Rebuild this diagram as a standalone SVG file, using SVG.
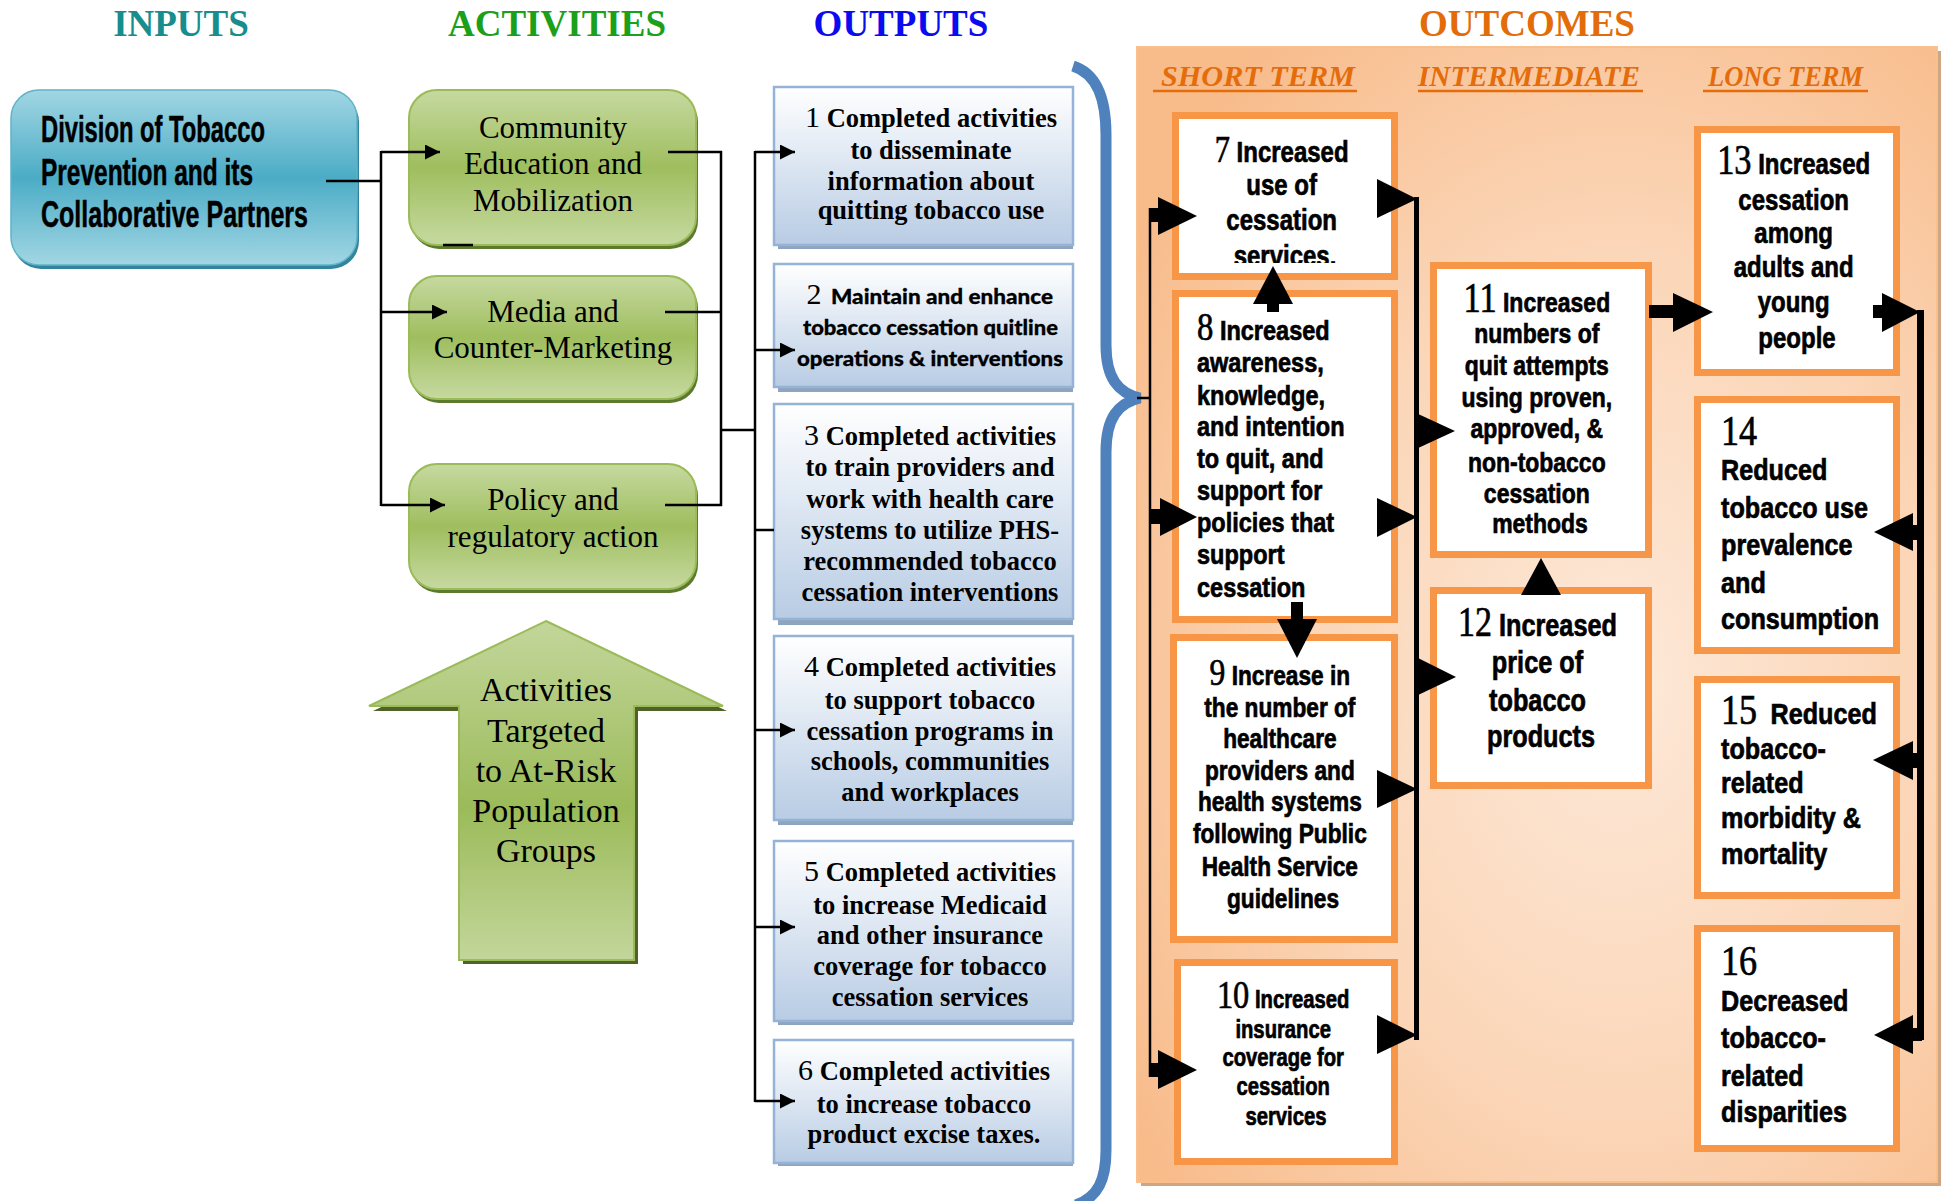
<svg xmlns="http://www.w3.org/2000/svg" width="1946" height="1201" viewBox="0 0 1946 1201">
<style>
.hdr{font-family:"Liberation Serif","Times New Roman",serif;font-weight:bold;font-size:37px;text-anchor:middle}
.sub{font-family:"Liberation Serif","Times New Roman",serif;font-weight:bold;font-style:italic;font-size:30px;fill:#e46c0a}
.div{font-family:"Liberation Sans",Arial,sans-serif;font-weight:bold;font-size:36px;fill:#000;stroke:#000;stroke-width:0.5}
.act{font-family:"Liberation Serif","Times New Roman",serif;font-size:31px;text-anchor:middle;fill:#000}
.arw{font-family:"Liberation Serif","Times New Roman",serif;font-size:34px;text-anchor:middle;fill:#000}
.out{font-family:"Liberation Serif","Times New Roman",serif;font-weight:bold;font-size:26.5px;text-anchor:middle;fill:#000}
.onum{font-weight:normal;font-size:30px}
.q{font-family:Lato,"Open Sans",sans-serif;font-weight:900;font-size:21px;fill:#000;stroke:#000;stroke-width:0.3}
.oc{font-family:"Liberation Sans",Arial,sans-serif;font-weight:bold;fill:#000;stroke:#000;stroke-width:0.7}
.num{font-family:"Liberation Serif","Times New Roman",serif;font-weight:normal}
.obox{fill:#fff;stroke:#f79646;stroke-width:7}
.outbox{fill:url(#gOut);stroke:#95b3d7;stroke-width:2.5}
.outsh{fill:#8fa4bd}
.ln{stroke:#000;stroke-width:2.5;fill:none}
</style>
<defs>
  <linearGradient id="gBlue" x1="0" y1="0" x2="0" y2="1">
    <stop offset="0" stop-color="#a2d6e3"/>
    <stop offset="0.5" stop-color="#4bacc6"/>
    <stop offset="1" stop-color="#a2d6e3"/>
  </linearGradient>
  <linearGradient id="gGreen" x1="0" y1="0" x2="0" y2="1">
    <stop offset="0" stop-color="#c6d9a0"/>
    <stop offset="0.5" stop-color="#9fbe5e"/>
    <stop offset="1" stop-color="#c6d9a0"/>
  </linearGradient>
  <linearGradient id="gArrow" x1="0" y1="0" x2="0" y2="1">
    <stop offset="0" stop-color="#c3d69b"/>
    <stop offset="0.55" stop-color="#9bbb59"/>
    <stop offset="1" stop-color="#c3d69b"/>
  </linearGradient>
  <linearGradient id="gOut" x1="0" y1="0" x2="0" y2="1">
    <stop offset="0" stop-color="#ffffff"/>
    <stop offset="1" stop-color="#b8cce4"/>
  </linearGradient>
  <radialGradient id="gPanel" cx="0.6" cy="0.56" r="0.72">
    <stop offset="0" stop-color="#fde9d9"/>
    <stop offset="0.55" stop-color="#fbd5b6"/>
    <stop offset="1" stop-color="#f8bb8a"/>
  </radialGradient>
  <marker id="ah" markerUnits="userSpaceOnUse" viewBox="0 0 15 15" refX="15" refY="7.5" markerWidth="15" markerHeight="15" orient="auto">
    <path d="M0,0 L15,7.5 L0,15 z" fill="#000"/>
  </marker>
  <clipPath id="clip7"><rect x="1170" y="100" width="240" height="163"/></clipPath>
</defs>
<rect width="1946" height="1201" fill="#fff"/>

<!-- headers -->
<g id="headers">
  <text class="hdr" x="181" y="36" fill="#178d8d">INPUTS</text>
  <text class="hdr" x="557" y="36" fill="#1aa01a">ACTIVITIES</text>
  <text class="hdr" x="901" y="36" fill="#0b0bf0">OUTPUTS</text>
  <text class="hdr" x="1527" y="36" fill="#e36c09">OUTCOMES</text>
</g>

<!-- outcomes panel -->
<g id="outcomes-panel">
  <rect x="1141" y="51" width="800" height="1135" fill="#cfa684"/>
  <rect x="1137" y="47" width="800" height="1135" fill="url(#gPanel)" stroke="#f9c08f" stroke-width="2"/>
  <text class="sub" x="1161" y="86" textLength="194" lengthAdjust="spacingAndGlyphs">SHORT TERM</text>
  <text class="sub" x="1418" y="86" textLength="222" lengthAdjust="spacingAndGlyphs">INTERMEDIATE</text>
  <text class="sub" x="1708" y="86" textLength="155" lengthAdjust="spacingAndGlyphs">LONG TERM</text>
  <line x1="1153" y1="91" x2="1357" y2="91" stroke="#e46c0a" stroke-width="2.5"/>
  <line x1="1418" y1="91" x2="1643" y2="91" stroke="#e46c0a" stroke-width="2.5"/>
  <line x1="1703" y1="91" x2="1868" y2="91" stroke="#e46c0a" stroke-width="2.5"/>
</g>

<!-- input node -->
<g id="node-inputs">
  <rect x="13" y="94" width="346" height="175" rx="28" fill="#31849b"/>
  <rect x="11" y="90" width="346" height="175" rx="28" fill="url(#gBlue)" stroke="#5fb3ca" stroke-width="1.5"/>
  <text class="div" x="41" y="142" textLength="224" lengthAdjust="spacingAndGlyphs">Division of Tobacco</text>
  <text class="div" x="41" y="185" textLength="212" lengthAdjust="spacingAndGlyphs">Prevention and its</text>
  <text class="div" x="41" y="227" textLength="267" lengthAdjust="spacingAndGlyphs">Collaborative Partners</text>
</g>

<!-- activities -->
<g id="node-community">
  <rect x="411" y="94" width="287" height="155" rx="28" fill="#5c7a2e"/>
  <rect x="409" y="90" width="287" height="155" rx="28" fill="url(#gGreen)" stroke="#9bbb59" stroke-width="2"/>
  <text class="act" x="553" y="138">Community</text>
  <text class="act" x="553" y="174">Education and</text>
  <text class="act" x="553" y="211">Mobilization</text>
  <line x1="443" y1="245" x2="473" y2="245" stroke="#000" stroke-width="2.5"/>
</g>
<g id="node-media">
  <rect x="411" y="280" width="287" height="123" rx="28" fill="#5c7a2e"/>
  <rect x="409" y="276" width="287" height="123" rx="28" fill="url(#gGreen)" stroke="#9bbb59" stroke-width="2"/>
  <text class="act" x="553" y="322">Media and</text>
  <text class="act" x="553" y="358">Counter-Marketing</text>
</g>
<g id="node-policy">
  <rect x="411" y="468" width="287" height="125" rx="28" fill="#5c7a2e"/>
  <rect x="409" y="464" width="287" height="125" rx="28" fill="url(#gGreen)" stroke="#9bbb59" stroke-width="2"/>
  <text class="act" x="553" y="510">Policy and</text>
  <text class="act" x="553" y="547">regulatory action</text>
</g>
<g id="node-targeted">
  <polygon points="549,626 727,711 638,711 638,964 463,964 463,711 373,711" fill="#4f6228"/>
  <polygon points="546,621 723,706 634,706 634,960 459,960 459,706 369,706" fill="url(#gArrow)" stroke="#9bbb59" stroke-width="2"/>
  <text class="arw" x="546" y="701">Activities</text>
  <text class="arw" x="546" y="742">Targeted</text>
  <text class="arw" x="546" y="782">to At-Risk</text>
  <text class="arw" x="546" y="822">Population</text>
  <text class="arw" x="546" y="862">Groups</text>
</g>

<!-- outputs -->
<g id="node-out1">
  <rect class="outsh" x="778" y="91" width="295" height="158"/>
  <rect class="outbox" x="774" y="87" width="299" height="158"/>
  <text class="out" x="931" y="127"><tspan class="onum">1</tspan> Completed activities</text>
  <text class="out" x="931" y="159">to disseminate</text>
  <text class="out" x="931" y="190">information about</text>
  <text class="out" x="931" y="219">quitting tobacco use</text>
</g>
<g id="node-out2">
  <rect class="outsh" x="778" y="268" width="295" height="124"/>
  <rect class="outbox" x="774" y="264" width="299" height="123"/>
  <text class="out" x="814" y="304"><tspan class="onum">2</tspan></text>
  <text class="q" x="831" y="304" textLength="222" lengthAdjust="spacingAndGlyphs">Maintain and enhance</text>
  <text class="q" x="803" y="335" textLength="255" lengthAdjust="spacingAndGlyphs">tobacco cessation quitline</text>
  <text class="q" x="797" y="366" textLength="266" lengthAdjust="spacingAndGlyphs">operations &amp; interventions</text>
</g>
<g id="node-out3">
  <rect class="outsh" x="778" y="408" width="295" height="217"/>
  <rect class="outbox" x="774" y="404" width="299" height="215"/>
  <text class="out" x="930" y="445"><tspan class="onum">3</tspan> Completed activities</text>
  <text class="out" x="930" y="476">to train providers and</text>
  <text class="out" x="930" y="508">work with health care</text>
  <text class="out" x="930" y="539">systems to utilize PHS-</text>
  <text class="out" x="930" y="570">recommended tobacco</text>
  <text class="out" x="930" y="601">cessation interventions</text>
</g>
<g id="node-out4">
  <rect class="outsh" x="778" y="640" width="295" height="185"/>
  <rect class="outbox" x="774" y="636" width="299" height="184"/>
  <text class="out" x="930" y="676"><tspan class="onum">4</tspan> Completed activities</text>
  <text class="out" x="930" y="709">to support tobacco</text>
  <text class="out" x="930" y="740">cessation programs in</text>
  <text class="out" x="930" y="770">schools, communities</text>
  <text class="out" x="930" y="801">and workplaces</text>
</g>
<g id="node-out5">
  <rect class="outsh" x="778" y="845" width="295" height="180"/>
  <rect class="outbox" x="774" y="841" width="299" height="180"/>
  <text class="out" x="930" y="881"><tspan class="onum">5</tspan> Completed activities</text>
  <text class="out" x="930" y="914">to increase Medicaid</text>
  <text class="out" x="930" y="944">and other insurance</text>
  <text class="out" x="930" y="975">coverage for tobacco</text>
  <text class="out" x="930" y="1006">cessation services</text>
</g>
<g id="node-out6">
  <rect class="outsh" x="778" y="1044" width="295" height="122"/>
  <rect class="outbox" x="774" y="1040" width="299" height="123"/>
  <text class="out" x="924" y="1080"><tspan class="onum">6</tspan> Completed activities</text>
  <text class="out" x="924" y="1113">to increase tobacco</text>
  <text class="out" x="924" y="1143">product excise taxes.</text>
</g>

<!-- brace -->
<g id="brace">
  <path d="M1073,66 C1098,74 1106,100 1106,135 L1106,345 C1106,378 1118,393 1140,398 C1118,403 1106,418 1106,452 L1106,1150 C1106,1180 1098,1197 1076,1205" fill="none" stroke="#4f81bd" stroke-width="11"/>
</g>

<!-- outcome nodes -->
<g id="node-7">
  <rect class="obox" x="1175.5" y="115.5" width="219" height="161"/>
  <g clip-path="url(#clip7)">
  <text class="oc" font-size="30" text-anchor="middle" transform="translate(1285,0) scale(0.8,1)">
    <tspan x="0" y="162"><tspan class="num" font-size="38">7</tspan> Increased</tspan>
    <tspan x="0" y="195">use of</tspan>
    <tspan x="0" y="230">cessation</tspan>
    <tspan x="0" y="266">services.</tspan>
  </text>
  </g>
</g>
<g id="node-8">
  <rect class="obox" x="1175.5" y="293.5" width="219" height="326"/>
  <text class="oc" font-size="28" transform="translate(1197,0) scale(0.84,1)">
    <tspan x="0" y="340"><tspan class="num" font-size="39">8</tspan> Increased</tspan>
    <tspan x="0" y="372">awareness,</tspan>
    <tspan x="0" y="405">knowledge,</tspan>
    <tspan x="0" y="436">and intention</tspan>
    <tspan x="0" y="468">to quit, and</tspan>
    <tspan x="0" y="500">support for</tspan>
    <tspan x="0" y="532">policies that</tspan>
    <tspan x="0" y="564">support</tspan>
    <tspan x="0" y="597">cessation</tspan>
  </text>
</g>
<g id="node-9">
  <rect class="obox" x="1173.5" y="637.5" width="221" height="302"/>
  <text class="oc" font-size="28" text-anchor="middle" transform="translate(1283,0) scale(0.81,1)">
    <tspan x="0" y="685"><tspan class="num" font-size="39">9</tspan> Increase in</tspan>
    <tspan x="0" y="717">the number of</tspan>
    <tspan x="0" y="748">healthcare</tspan>
    <tspan x="0" y="780">providers and</tspan>
    <tspan x="0" y="811">health systems</tspan>
    <tspan x="0" y="843">following Public</tspan>
    <tspan x="0" y="876">Health Service</tspan>
    <tspan x="0" y="908">guidelines</tspan>
  </text>
</g>
<g id="node-10">
  <rect class="obox" x="1177.5" y="962.5" width="217" height="199"/>
  <text class="oc" font-size="25" text-anchor="middle" transform="translate(1286,0) scale(0.81,1)">
    <tspan x="0" y="1008"><tspan class="num" font-size="40">10</tspan> Increased</tspan>
    <tspan x="0" y="1038">insurance</tspan>
    <tspan x="0" y="1066">coverage for</tspan>
    <tspan x="0" y="1095">cessation</tspan>
    <tspan x="0" y="1125">services</tspan>
  </text>
</g>
<g id="node-11">
  <rect class="obox" x="1433.5" y="265.5" width="215" height="289"/>
  <text class="oc" font-size="28" text-anchor="middle" transform="translate(1540,0) scale(0.82,1)">
    <tspan x="0" y="312"><tspan class="num" font-size="42">11</tspan> Increased</tspan>
    <tspan x="0" y="343">numbers of</tspan>
    <tspan x="0" y="375">quit attempts</tspan>
    <tspan x="0" y="407">using proven,</tspan>
    <tspan x="0" y="438">approved, &amp;</tspan>
    <tspan x="0" y="472">non-tobacco</tspan>
    <tspan x="0" y="503">cessation</tspan>
    <tspan x="0" y="533">methods</tspan>
  </text>
</g>
<g id="node-12">
  <rect class="obox" x="1433.5" y="590.5" width="215" height="195"/>
  <text class="oc" font-size="32" text-anchor="middle" transform="translate(1541,0) scale(0.79,1)">
    <tspan x="0" y="636"><tspan class="num" font-size="43">12</tspan> Increased</tspan>
    <tspan x="0" y="673">price of</tspan>
    <tspan x="0" y="711">tobacco</tspan>
    <tspan x="0" y="747">products</tspan>
  </text>
</g>
<g id="node-13">
  <rect class="obox" x="1697.5" y="129.5" width="199" height="243"/>
  <text class="oc" font-size="30" text-anchor="middle" transform="translate(1797,0) scale(0.8,1)">
    <tspan x="0" y="174"><tspan class="num" font-size="43">13</tspan> Increased</tspan>
    <tspan x="0" y="210">cessation</tspan>
    <tspan x="0" y="243">among</tspan>
    <tspan x="0" y="277">adults and</tspan>
    <tspan x="0" y="312">young</tspan>
    <tspan x="0" y="348">people</tspan>
  </text>
</g>
<g id="node-14">
  <rect class="obox" x="1697.5" y="399.5" width="199" height="251"/>
  <text class="oc" font-size="30" transform="translate(1721,0) scale(0.84,1)">
    <tspan x="0" y="445" class="num" font-size="43">14</tspan>
    <tspan x="0" y="480">Reduced</tspan>
    <tspan x="0" y="518">tobacco use</tspan>
    <tspan x="0" y="555">prevalence</tspan>
    <tspan x="0" y="593">and</tspan>
    <tspan x="0" y="629">consumption</tspan>
  </text>
</g>
<g id="node-15">
  <rect class="obox" x="1697.5" y="679.5" width="199" height="216"/>
  <text class="oc" font-size="30" transform="translate(1721,0) scale(0.84,1)">
    <tspan x="0" y="724"><tspan class="num" font-size="43">15</tspan><tspan dx="16">Reduced</tspan></tspan>
    <tspan x="0" y="759">tobacco-</tspan>
    <tspan x="0" y="793">related</tspan>
    <tspan x="0" y="828">morbidity &amp;</tspan>
    <tspan x="0" y="864">mortality</tspan>
  </text>
</g>
<g id="node-16">
  <rect class="obox" x="1697.5" y="928.5" width="199" height="220"/>
  <text class="oc" font-size="30" transform="translate(1721,0) scale(0.84,1)">
    <tspan x="0" y="975" class="num" font-size="43">16</tspan>
    <tspan x="0" y="1011">Decreased</tspan>
    <tspan x="0" y="1048">tobacco-</tspan>
    <tspan x="0" y="1086">related</tspan>
    <tspan x="0" y="1122">disparities</tspan>
  </text>
</g>

<!-- connectors -->
<g id="connectors">
  <polyline class="ln" points="326,181 381,181"/>
  <line class="ln" x1="381" y1="151" x2="381" y2="506"/>
  <line class="ln" x1="381" y1="152" x2="440" y2="152" marker-end="url(#ah)"/>
  <line class="ln" x1="381" y1="312" x2="447" y2="312" marker-end="url(#ah)"/>
  <line class="ln" x1="381" y1="505" x2="445" y2="505" marker-end="url(#ah)"/>
  <line class="ln" x1="668" y1="152" x2="722" y2="152"/>
  <line class="ln" x1="665" y1="312" x2="722" y2="312"/>
  <line class="ln" x1="665" y1="505" x2="722" y2="505"/>
  <line class="ln" x1="721" y1="151" x2="721" y2="506"/>
  <line class="ln" x1="721" y1="430" x2="756" y2="430"/>
  <line class="ln" x1="755" y1="151" x2="755" y2="1102"/>
  <line class="ln" x1="755" y1="152" x2="795" y2="152" marker-end="url(#ah)"/>
  <line class="ln" x1="755" y1="350" x2="795" y2="350" marker-end="url(#ah)"/>
  <line class="ln" x1="755" y1="530" x2="774" y2="530"/>
  <line class="ln" x1="755" y1="730" x2="795" y2="730" marker-end="url(#ah)"/>
  <line class="ln" x1="755" y1="927" x2="795" y2="927" marker-end="url(#ah)"/>
  <line class="ln" x1="755" y1="1101" x2="795" y2="1101" marker-end="url(#ah)"/>
  <line class="ln" x1="1137" y1="398" x2="1151" y2="398"/>
  <line class="ln" x1="1150" y1="208" x2="1150" y2="1077"/>
  <rect x="1149" y="208" width="11" height="14"/>
  <polygon points="1158,197 1197,216 1158,235"/>
  <rect x="1149" y="509" width="12" height="15"/>
  <polygon points="1160,498 1197,517 1160,536"/>
  <rect x="1149" y="1063" width="11" height="14"/>
  <polygon points="1158,1050 1197,1070 1158,1089"/>
  <polygon points="1273,266 1293,304 1253,304"/>
  <rect x="1267" y="303" width="12" height="9"/>
  <rect x="1291" y="602" width="12" height="18"/>
  <polygon points="1277,619 1317,619 1297,658"/>
  <rect x="1414" y="197" width="5" height="843"/>
  <polygon points="1377,179 1417,199 1377,218"/>
  <polygon points="1377,498 1417,517 1377,537"/>
  <polygon points="1377,770 1417,789 1377,808"/>
  <polygon points="1377,1015 1417,1035 1377,1054"/>
  <polygon points="1416,413 1455,431 1416,449"/>
  <polygon points="1416,657 1456,677 1416,696"/>
  <polygon points="1541,558 1561,595 1521,595"/>
  <rect x="1649" y="305" width="25" height="13"/>
  <polygon points="1673,293 1713,312 1673,332"/>
  <rect x="1873" y="305" width="10" height="13"/>
  <polygon points="1882,293 1920,312 1882,332"/>
  <rect x="1917" y="310" width="7" height="730"/>
  <polygon points="1874,532 1913,513 1913,551"/>
  <rect x="1912" y="525" width="9" height="15"/>
  <polygon points="1873,760 1913,741 1913,780"/>
  <rect x="1912" y="753" width="9" height="15"/>
  <polygon points="1874,1035 1913,1015 1913,1054"/>
  <rect x="1912" y="1028" width="10" height="13"/>
</g>
</svg>
